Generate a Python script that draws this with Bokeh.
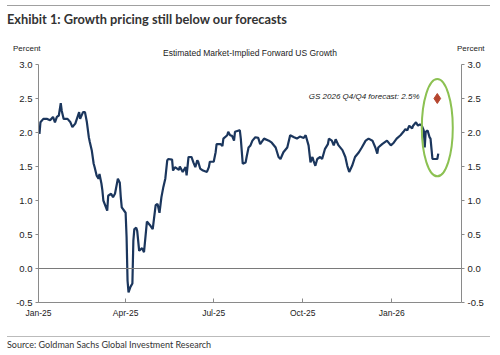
import pandas as pd
from bokeh.plotting import figure
from bokeh.layouts import column
from bokeh.models import (LinearAxis, Range1d, FixedTicker, DatetimeTickFormatter,
                          NumeralTickFormatter, Label, Span, ColumnDataSource, Div)
from bokeh.embed import file_html
from bokeh.resources import INLINE

# ---- data ----
dates = [
    "2025-01-02", "2025-01-03", "2025-01-06", "2025-01-10", "2025-01-13", "2025-01-16",
    "2025-01-18", "2025-01-20", "2025-01-22", "2025-01-24", "2025-01-25", "2025-01-27",
    "2025-01-31", "2025-02-03", "2025-02-05", "2025-02-08", "2025-02-12", "2025-02-13",
    "2025-02-16", "2025-02-18", "2025-02-20", "2025-02-22", "2025-02-23", "2025-02-25",
    "2025-02-27", "2025-02-28", "2025-03-02", "2025-03-04", "2025-03-05", "2025-03-07",
    "2025-03-08", "2025-03-09", "2025-03-13", "2025-03-14", "2025-03-17", "2025-03-19",
    "2025-03-21", "2025-03-24", "2025-03-26", "2025-03-27", "2025-03-28", "2025-04-01",
    "2025-04-02", "2025-04-03", "2025-04-04", "2025-04-06", "2025-04-08", "2025-04-09",
    "2025-04-10", "2025-04-12", "2025-04-13", "2025-04-15", "2025-04-18", "2025-04-20",
    "2025-04-23", "2025-04-26", "2025-04-29", "2025-05-02", "2025-05-04", "2025-05-06",
    "2025-05-08", "2025-05-10", "2025-05-12", "2025-05-14", "2025-05-15", "2025-05-19",
    "2025-05-20", "2025-05-22", "2025-05-26", "2025-05-27", "2025-05-30", "2025-06-02",
    "2025-06-03", "2025-06-05", "2025-06-08", "2025-06-10", "2025-06-12", "2025-06-14",
    "2025-06-15", "2025-06-17", "2025-06-20", "2025-06-24", "2025-06-26", "2025-06-27",
    "2025-07-01", "2025-07-03", "2025-07-04", "2025-07-08", "2025-07-10", "2025-07-11",
    "2025-07-15", "2025-07-16", "2025-07-18", "2025-07-20", "2025-07-22", "2025-07-23",
    "2025-07-27", "2025-07-28", "2025-07-29", "2025-07-31", "2025-08-03", "2025-08-04",
    "2025-08-06", "2025-08-08", "2025-08-10", "2025-08-13", "2025-08-16", "2025-08-18",
    "2025-08-22", "2025-08-27", "2025-08-30", "2025-09-03", "2025-09-06", "2025-09-08",
    "2025-09-11", "2025-09-15", "2025-09-18", "2025-09-22", "2025-09-25", "2025-09-28",
    "2025-10-02", "2025-10-04", "2025-10-07", "2025-10-09", "2025-10-11", "2025-10-12",
    "2025-10-14", "2025-10-16", "2025-10-19", "2025-10-21", "2025-10-24", "2025-10-27",
    "2025-10-28", "2025-10-31", "2025-11-02", "2025-11-04", "2025-11-07", "2025-11-11",
    "2025-11-14", "2025-11-16", "2025-11-18", "2025-11-21", "2025-11-24", "2025-11-28",
    "2025-12-01", "2025-12-05", "2025-12-08", "2025-12-12", "2025-12-15", "2025-12-17",
    "2025-12-18", "2025-12-22", "2025-12-27", "2025-12-31", "2026-01-03", "2026-01-06",
    "2026-01-10", "2026-01-13", "2026-01-15", "2026-01-17", "2026-01-19", "2026-01-22",
    "2026-01-23", "2026-01-26", "2026-01-28", "2026-01-30", "2026-02-01", "2026-02-03",
    "2026-02-04", "2026-02-05", "2026-02-07", "2026-02-09", "2026-02-10", "2026-02-11",
    "2026-02-12", "2026-02-15", "2026-02-17", "2026-02-18",
]
growth = [
    1.98, 2.15, 2.20, 2.20, 2.18, 2.23,
    2.15, 2.23, 2.25, 2.43, 2.32, 2.20,
    2.20, 2.15, 2.08, 2.13, 2.30, 2.20,
    2.30, 2.30, 2.15, 1.93, 1.86, 1.74,
    1.54, 1.49, 1.37, 1.32, 1.39, 1.25,
    1.15, 1.00, 0.85, 1.07, 1.10, 1.05,
    1.10, 1.32, 1.26, 1.05, 0.90, 0.82,
    0.46, -0.18, -0.35, -0.27, -0.22, 0.41,
    0.58, 0.60, 0.55, 0.26, 0.30, 0.24,
    0.69, 0.64, 0.58, 0.93, 0.95, 0.82,
    1.05, 1.20, 1.32, 1.59, 1.61, 1.60,
    1.44, 1.49, 1.45, 1.50, 1.42, 1.49,
    1.37, 1.64, 1.64, 1.56, 1.49, 1.59,
    1.57, 1.47, 1.44, 1.42, 1.49, 1.57,
    1.57, 1.71, 1.83, 1.83, 1.80, 1.91,
    1.96, 2.01, 1.96, 1.95, 1.88, 2.01,
    2.03, 2.03, 1.91, 1.54, 1.56, 1.64,
    1.78, 1.81, 1.88, 1.93, 1.92, 1.83,
    1.91, 1.88, 1.85, 1.78, 1.64, 1.61,
    1.71, 1.78, 1.96, 1.93, 1.91, 1.94,
    1.92, 1.96, 1.81, 1.56, 1.64, 1.59,
    1.51, 1.61, 1.64, 1.61, 1.76, 1.83,
    1.91, 1.88, 1.81, 1.90, 1.81, 1.74,
    1.64, 1.51, 1.42, 1.51, 1.64, 1.71,
    1.78, 1.88, 1.91, 1.88, 1.78, 1.69,
    1.78, 1.83, 1.88, 1.81, 1.85, 1.91,
    1.96, 2.01, 2.05, 2.03, 2.10, 2.06,
    2.10, 2.15, 2.10, 2.12, 2.10, 2.03,
    1.78, 2.01, 2.03, 1.93, 1.91, 1.76,
    1.61, 1.61, 1.61, 1.69,
]
forecast_date = ["2026-02-17"]
forecast_value = [2.5]
forecast_label = "GS 2026 Q4/Q4 forecast: 2.5%"
exhibit_title = "Exhibit 1: Growth pricing still below our forecasts"
chart_title = "Estimated Market-Implied Forward US Growth"
unit_label = "Percent"
source_text = "Source: Goldman Sachs Global Investment Research"
tick_dates = ["2025-01-01", "2025-04-01", "2025-07-01", "2025-10-01", "2026-01-01"]
y_ticks = [-0.5, 0.0, 0.5, 1.0, 1.5, 2.0, 2.5, 3.0]

ts = pd.to_datetime(dates)
src = ColumnDataSource(dict(x=ts, y=growth))

x_start = pd.Timestamp("2025-01-01")
x_end = pd.Timestamp("2026-03-14")

TOP_H, FIG_H, BOT_H = 60, 270, 25
W = 500

p = figure(width=W, height=FIG_H, output_backend="svg", toolbar_location=None,
           x_axis_type="datetime",
           x_range=Range1d(x_start, x_end), y_range=Range1d(-0.5, 3.0),
           min_border_left=38, min_border_right=39, min_border_top=4, min_border_bottom=28)
p.outline_line_color = None
p.grid.visible = False
p.background_fill_color = "white"
p.border_fill_color = "white"

AX = "#8a8a8a"
TICKFONT = "Liberation Sans"
TXT = "#222222"

# x axis
xa = p.xaxis[0]
xa.ticker = FixedTicker(ticks=[pd.Timestamp(d).value / 1e6 for d in tick_dates])
xa.formatter = DatetimeTickFormatter(days="%b-%y", months="%b-%y", years="%b-%y")
xa.axis_line_color = AX
xa.major_tick_line_color = AX
xa.major_tick_in = 4
xa.major_tick_out = 0
xa.minor_tick_line_color = None
xa.major_label_text_font = TICKFONT
xa.major_label_text_font_size = "8.5px"
xa.major_label_text_color = TXT
xa.major_label_standoff = 5

def style_y(ax):
    ax.ticker = FixedTicker(ticks=y_ticks)
    ax.formatter = NumeralTickFormatter(format="0.0")
    ax.axis_line_color = AX
    ax.major_tick_line_color = AX
    ax.major_tick_in = 0
    ax.major_tick_out = 3
    ax.minor_tick_line_color = None
    ax.major_label_text_font = TICKFONT
    ax.major_label_text_font_size = "9.5px"
    ax.major_label_text_color = TXT
    ax.major_label_standoff = 3

style_y(p.yaxis[0])
ra = LinearAxis()
style_y(ra)
p.add_layout(ra, "right")

# zero line
p.add_layout(Span(location=0, dimension="width", line_color="#7a7a7a", line_width=1))

# series
p.line("x", "y", source=src, line_color="#1b365d", line_width=2.2)

# forecast marker and highlight ellipse
fd = pd.to_datetime(forecast_date)
p.scatter(fd, forecast_value, marker="diamond", size=10, fill_color="#b5452e", line_color="#b5452e")
p.ellipse(x=[fd[0]], y=[2.07], width=32 * 24 * 3600 * 1000, height=1.43,
          fill_color=None, line_color="#8cc152", line_width=2)

# forecast annotation (screen units relative to the frame's bottom-left corner)
p.add_layout(Label(x=381, y=206, x_units="screen", y_units="screen", text=forecast_label,
                   text_font=TICKFONT, text_font_size="8px", text_font_style="italic",
                   text_align="right", text_baseline="alphabetic", text_color=TXT))

# header and footer as HTML text
def box(left, top, inner, style):
    return (f'<div style="position:absolute;left:{left}px;top:{top}px;white-space:nowrap;'
            f'line-height:1;{style}">{inner}</div>')

header_html = (
    f'<div style="position:relative;width:{W}px;height:{TOP_H}px;">'
    + box(7, 5, exhibit_title,
          "width:483px;border-top:1.5px solid #a0a0a0;padding-top:7px;"
          "font-family:Lato;font-weight:bold;font-size:12.8px;color:#333333;")
    + box(13, 45.2, unit_label, "font-family:'Liberation Sans';font-size:8px;color:#222;")
    + box(457, 45.2, unit_label, "font-family:'Liberation Sans';font-size:8px;color:#222;")
    + '<div style="position:absolute;left:0;width:500px;top:48.8px;text-align:center;'
      "line-height:1;font-family:'Liberation Sans';font-size:8.5px;color:#222;\">"
      f'{chart_title}</div>'
    + '</div>'
)
footer_html = (
    f'<div style="position:relative;width:{W}px;height:{BOT_H}px;">'
    '<div style="position:absolute;left:7px;top:5.5px;width:483px;height:1.5px;'
    'background:#bbbbbb;"></div>'
    + box(7, 9.5, source_text, "font-family:Lato;font-size:9px;color:#333333;")
    + '</div>'
)

header = Div(text=header_html, width=W, height=TOP_H, styles={"margin": "0", "padding": "0"})
footer = Div(text=footer_html, width=W, height=BOT_H, styles={"margin": "0", "padding": "0"})

layout = column(header, p, footer, spacing=0)

open("out.html", "w").write(file_html(layout, INLINE))
